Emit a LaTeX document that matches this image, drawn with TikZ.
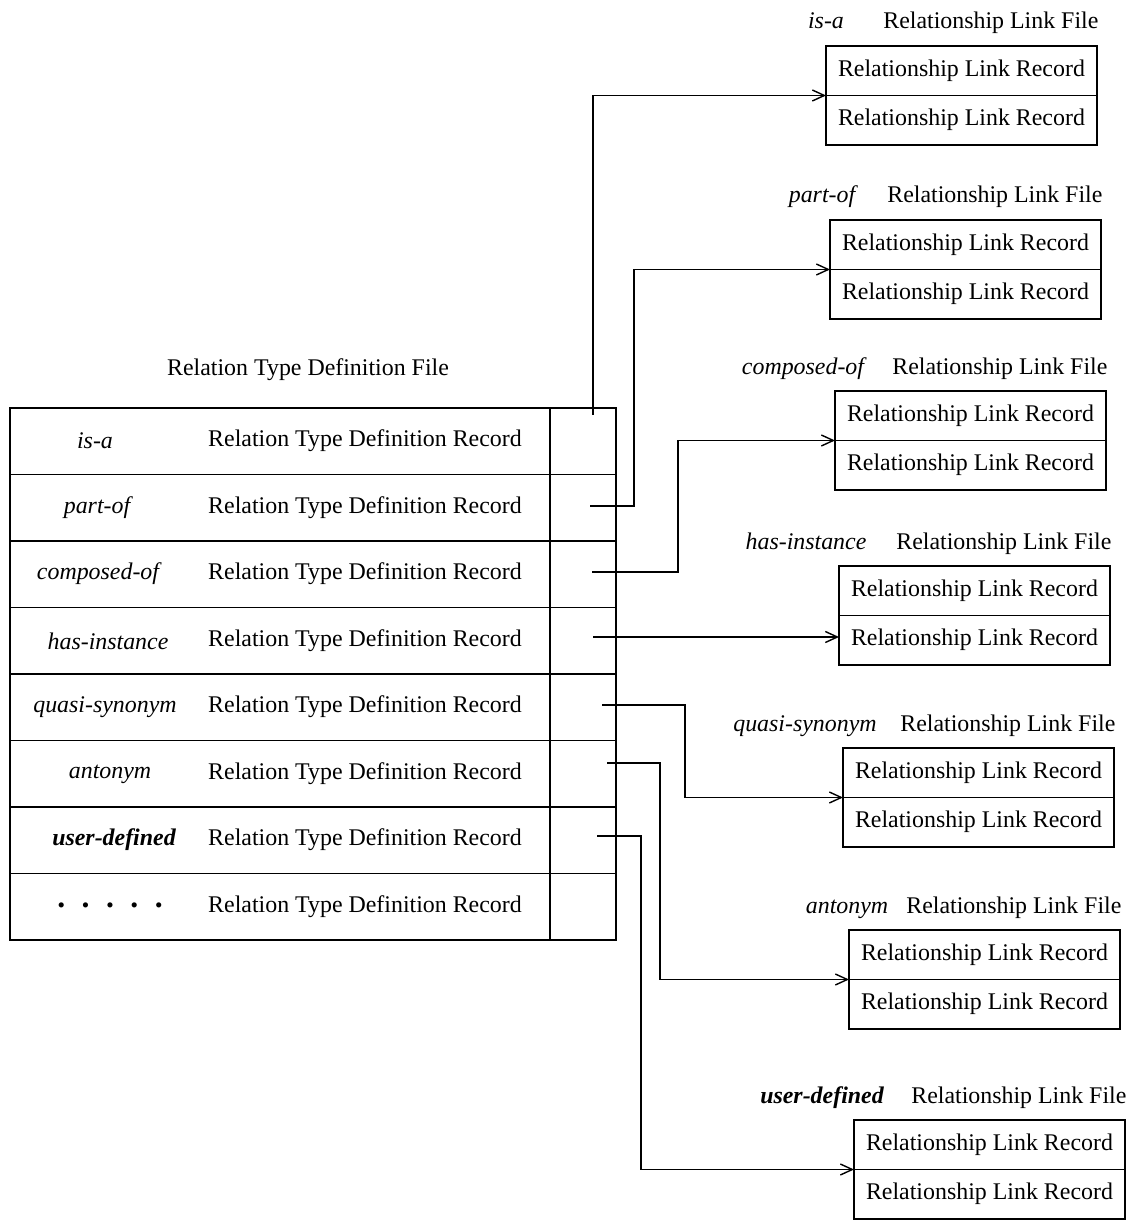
\documentclass[tikz,border=0pt]{standalone}
\usepackage{fontspec}
\setmainfont{Liberation Serif}
\usetikzlibrary{arrows.meta,calc}
\begin{document}
\begin{tikzpicture}[x=0.02cm,y=-0.02cm,
  every node/.style={font=\fontsize{13.6}{16}\selectfont},
  trow/.style={draw,line width=0.8pt,rectangle,inner sep=0pt,outer sep=0pt,minimum width=10.8cm,minimum height=1.33cm},
  pcell/.style={draw,line width=0.8pt,rectangle,inner sep=0pt,outer sep=0pt,minimum width=1.32cm,minimum height=1.33cm},
  rec/.style={draw,line width=0.8pt,rectangle,inner sep=0pt,outer sep=0pt,minimum width=5.42cm,minimum height=0.99cm},
  lbl/.style={font=\fontsize{13.6}{16}\selectfont\itshape},
  ptr/.style={line width=0.8pt},
  ptra/.style={line width=0.8pt,-{Straight Barb[length=2.4mm,width=2.2mm]}}]
\useasboundingbox (0,0) rectangle (1131,1222);

% ---------- main table ----------
\node at (308,370) (ttitle) {Relation Type Definition File};
\foreach \i in {1,...,8}{
  \node[trow,anchor=north west] (row\i) at (10,{408+66.5*(\i-1)}) {};
  \node[pcell,anchor=north west] (ptr\i) at (row\i.north east) {};
  \node (rtd\i) at (365,{441+66.5*(\i-1)}) {Relation Type Definition Record};
}
\node[lbl] (lab1) at (95,441) {is-a};
\node[lbl] (lab2) at (97,508) {part-of};
\node[lbl] (lab3) at (98,574) {composed-of};
\node[lbl] (lab4) at (108,641) {has-instance};
\node[lbl] (lab5) at (105,707) {quasi-synonym};
\node[lbl] (lab6) at (110,774) {antonym};
\node[lbl] (lab7) at (114,840) {\bfseries user-defined};
\node[font=\fontsize{18}{18}\selectfont\bfseries] (lab8) at (110,905) {.\hspace{0.52em}.\hspace{0.52em}.\hspace{0.52em}.\hspace{0.52em}.};

% ---------- link files ----------
\newcommand{\linkfile}[5]{%
  \node[rec,anchor=north west] (#1a) at (#3,#4) {Relationship Link Record};
  \node[rec,anchor=north] (#1b) at (#1a.south) {Relationship Link Record};
  \node[anchor=base east,inner sep=0pt] (#1t) at ([yshift=0.34cm,xshift=1pt]#1a.north east) {Relationship Link File};
  \coordinate (#1x) at (#5,0);
  \node[lbl,anchor=base,inner sep=0pt] (#1l) at (#1x |- #1t.base) {#2};
}
\linkfile{isa}{is-a}{826}{46}{826}
\linkfile{po}{part-of}{830}{220}{822}
\linkfile{co}{composed-of}{835}{391}{803}
\linkfile{hi}{has-instance}{839}{566}{806}
\linkfile{qs}{quasi-synonym}{843}{748}{805}
\linkfile{an}{antonym}{849}{930}{847}
\linkfile{ud}{\bfseries user-defined}{854}{1120}{822}

% ---------- pointers ----------
\coordinate (s1) at (593,415);
\coordinate (s2) at (590,506);
\coordinate (s3) at (592,572);
\coordinate (s4) at (593,637);
\coordinate (s5) at (602,705);
\coordinate (s6) at (607,763);
\coordinate (s7) at (597,836);

\draw[ptra] (s1) |- (isaa.south west);
\draw[ptra] (s2) -- (634,506) |- (poa.south west);
\draw[ptra] (s3) -- (678,572) |- (coa.south west);
\draw[ptra] (s4) -- (s4 -| hib.west);
\draw[ptra] (s5) -- (685,705) |- (qsa.south west);
\draw[ptra] (s6) -- (660,763) |- (ana.south west);
\draw[ptra] (s7) -- (641,836) |- (uda.south west);
\end{tikzpicture}
\end{document}
